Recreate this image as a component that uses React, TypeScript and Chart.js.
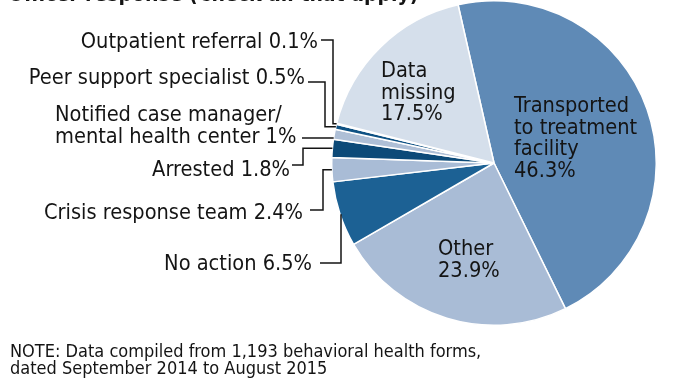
import React, { useEffect, useRef } from "react";
import { Chart, registerables } from "chart.js";

Chart.register(...registerables);

const categories = [
  "Transported to treatment facility",
  "Other",
  "No action",
  "Crisis response team",
  "Arrested",
  "Notified case manager/ mental health center",
  "Peer support specialist",
  "Outpatient referral",
  "Data missing",
];
const percentValues = [46.3, 23.9, 6.5, 2.4, 1.8, 1, 0.5, 0.1, 17.5];
const valueLabels = ["46.3%", "23.9%", "6.5%", "2.4%", "1.8%", "1%", "0.5%", "0.1%", "17.5%"];
const sliceColors = [
  "#5f8ab6",
  "#a9bcd6",
  "#1c6194",
  "#a9bcd6",
  "#0c4a78",
  "#aebfd6",
  "#0e5183",
  "#c9d5e4",
  "#d5dfeb",
];
const titleText = "Officer response (Check all that apply)";
const noteLines = [
  "NOTE: Data compiled from 1,193 behavioral health forms,",
  "dated September 2014 to August 2015",
];

const FONT = '"DejaVu Sans Condensed", "DejaVu Sans", sans-serif';

const insideLabels: Record<number, { lines: string[]; x: number; y: number }> = {
  0: { lines: ["Transported", "to treatment", "facility", valueLabels[0]], x: 514, y: 112 },
  1: { lines: ["Other", valueLabels[1]], x: 438, y: 255 },
  8: { lines: ["Data", "missing", valueLabels[8]], x: 381, y: 77 },
};

const outsideLabels: Record<
  number,
  { lines: string[]; align: "right" | "left"; x: number; y: number; lineY: number; lineStart: number; elbowX: number | null }
> = {
  7: { lines: ["Outpatient referral " + valueLabels[7]], align: "right", x: 318, y: 48, lineY: 40, lineStart: 321, elbowX: 333 },
  6: { lines: ["Peer support specialist " + valueLabels[6]], align: "right", x: 305, y: 84, lineY: 82, lineStart: 308, elbowX: 325 },
  5: { lines: ["Notified case manager/", "mental health center " + valueLabels[5]], align: "left", x: 55, y: 121, lineY: 138, lineStart: 302, elbowX: null },
  4: { lines: ["Arrested " + valueLabels[4]], align: "right", x: 290, y: 176, lineY: 165, lineStart: 292, elbowX: 303 },
  3: { lines: ["Crisis response team " + valueLabels[3]], align: "right", x: 303, y: 219, lineY: 210, lineStart: 310, elbowX: 323 },
  2: { lines: ["No action " + valueLabels[2]], align: "right", x: 312, y: 270, lineY: 263, lineStart: 320, elbowX: 341 },
};

const annotate = {
  id: "annotate",
  afterDraw(chart: any) {
    const ctx = chart.ctx as CanvasRenderingContext2D;
    const meta = chart.getDatasetMeta(0);
    ctx.save();
    ctx.fillStyle = "#141414";
    ctx.textBaseline = "alphabetic";

    ctx.font = `bold 21px ${FONT}`;
    ctx.textAlign = "left";
    ctx.fillText(titleText, 8, 0.5);

    ctx.font = `21.6px ${FONT}`;
    const lh = 21.5;
    Object.keys(insideLabels).forEach((k) => {
      const l = insideLabels[+k];
      ctx.textAlign = "left";
      l.lines.forEach((s, j) => ctx.fillText(s, l.x, l.y + j * lh));
    });

    ctx.strokeStyle = "#141414";
    ctx.lineWidth = 1.5;
    Object.keys(outsideLabels).forEach((k) => {
      const i = +k;
      const l = outsideLabels[i];
      ctx.textAlign = l.align;
      l.lines.forEach((s, j) => ctx.fillText(s, l.x, l.y + j * 22));
      const arc = meta.data[i];
      const { x: cx, y: cy, startAngle, endAngle, outerRadius } = arc.getProps(
        ["x", "y", "startAngle", "endAngle", "outerRadius"],
        true
      );
      const mid = (startAngle + endAngle) / 2;
      const px = cx + outerRadius * Math.cos(mid);
      const py = cy + outerRadius * Math.sin(mid);
      ctx.beginPath();
      ctx.moveTo(l.lineStart, l.lineY);
      if (l.elbowX === null) {
        const dy = l.lineY - cy;
        const ex = cx - Math.sqrt(Math.max(outerRadius * outerRadius - dy * dy, 0));
        ctx.lineTo(ex, l.lineY);
      } else {
        ctx.lineTo(l.elbowX, l.lineY);
        ctx.lineTo(l.elbowX, py);
        if (Math.abs(px - l.elbowX) > 1) ctx.lineTo(px, py);
      }
      ctx.stroke();
    });

    ctx.font = `18px ${FONT}`;
    ctx.textAlign = "left";
    noteLines.forEach((s, j) => ctx.fillText(s, 10, 357 + j * 17));
    ctx.restore();
  },
};

export default function App() {
  const ref = useRef<HTMLCanvasElement | null>(null);
  useEffect(() => {
    if (!ref.current) return;
    const chart = new Chart(ref.current, {
      type: "pie",
      data: {
        labels: categories,
        datasets: [
          {
            data: percentValues,
            backgroundColor: sliceColors,
            borderColor: "#ffffff",
            borderWidth: 1.5,
          },
        ],
      },
      options: {
        responsive: false,
        animation: false,
        rotation: -12.8,
        layout: { padding: { left: 331, right: 16, top: 0, bottom: 53 } },
        plugins: {
          legend: { display: false },
          tooltip: { enabled: false },
        },
      },
      plugins: [annotate],
    });
    return () => chart.destroy();
  }, []);
  return (
    <div style={{ position: "fixed", left: 0, top: 0, width: 673, height: 379, background: "#fff" }}>
      <canvas ref={ref} width={673} height={379} style={{ display: "block", width: 673, height: 379 }} />
    </div>
  );
}
